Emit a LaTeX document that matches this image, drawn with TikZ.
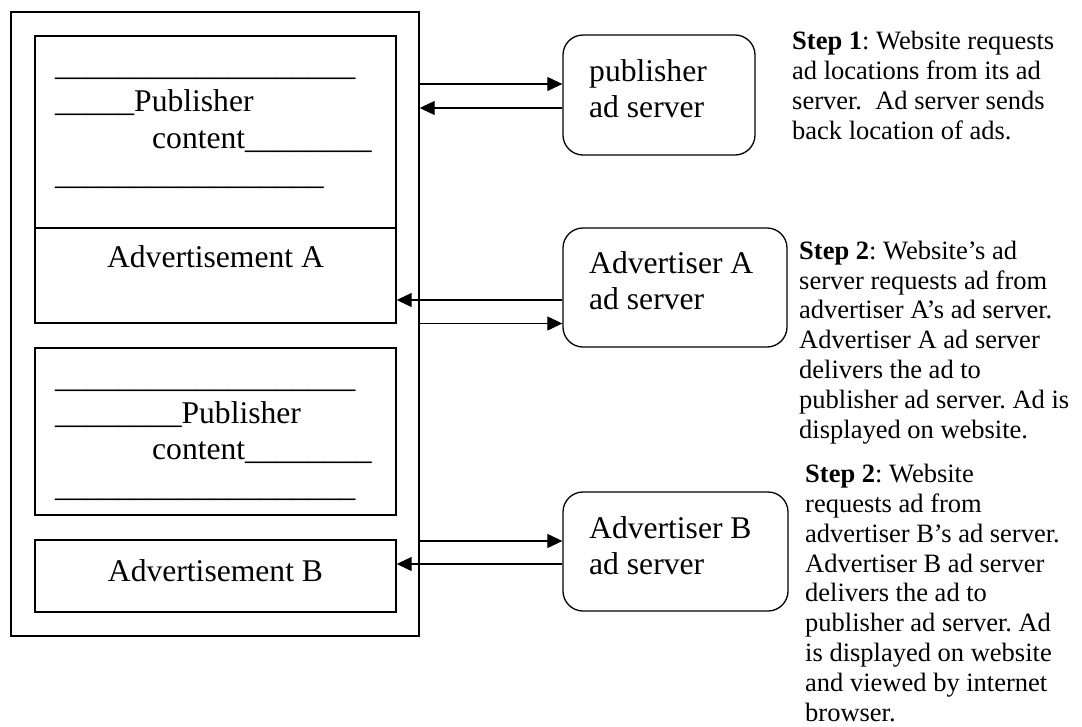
\documentclass[tikz,border=0pt]{standalone}
\usepackage{fontspec}
\setmainfont{Liberation Serif}
\usetikzlibrary{arrows.meta, positioning}
\frenchspacing

\newcommand{\blanks}[1]{\foreach \k in {1,...,#1}{\_}}

\begin{document}
\begin{tikzpicture}[x=1pt, y=-1pt, >={Triangle[length=15pt, width=14pt]},
    frame/.style={draw, line width=1.4pt, inner sep=0pt},
    srv/.style={draw, line width=1.3pt, rounded corners=20pt, inner sep=0pt},
    flow/.style={->, line width=1.1pt},
    big/.style={font=\fontsize{31.6}{36.4}\selectfont, inner sep=0pt, align=left},
    note/.style={font=\fontsize{26.5}{29.8}\selectfont, inner sep=0pt, align=left}]
    \useasboundingbox (0,0) rectangle (1082,726);

    % website page
    \node[frame, minimum width=408pt, minimum height=624pt] (site) at (215,324) {};
    \node[frame, minimum width=361pt, minimum height=192pt] (pubA) at (215.5,132) {};
    \node[frame, minimum width=361pt, minimum height=95pt] (adA) at (215.5,275.5) {};
    \node[frame, minimum width=361pt, minimum height=167pt] (pubB) at (215.5,431.5) {};
    \node[frame, minimum width=361pt, minimum height=72pt] (adB) at (215.5,576) {};

    % multi-line texts are placed by the baseline of their last line
    \node[big, anchor=base west] (pubAtxt) at (55,184.7)
        {\blanks{19}\\\blanks{5}Publisher\\\hspace*{97pt}content\blanks{8}\\\blanks{17}};
    \node[big, anchor=base west] (pubBtxt) at (55,496.2)
        {\blanks{19}\\\blanks{8}Publisher\\\hspace*{97pt}content\blanks{8}\\\blanks{19}};
    \node[big, anchor=base] (adAtxt) at (215.5,267) {Advertisement A};
    \node[big, anchor=base] (adBtxt) at (215.5,581) {Advertisement B};

    % ad servers
    \node[srv, minimum width=192pt, minimum height=120pt] (pubsrv) at (659,95) {};
    \node[srv, minimum width=224pt, minimum height=119pt] (srvA) at (675,287.5) {};
    \node[srv, minimum width=225pt, minimum height=119pt] (srvB) at (675.5,551.5) {};
    \node[big, anchor=base west] (pubsrvtxt) at (589,117.4) {publisher\\ad server};
    \node[big, anchor=base west] (srvAtxt) at (589,309.4) {Advertiser A\\ad server};
    \node[big, anchor=base west] (srvBtxt) at (589,574.4) {Advertiser B\\ad server};

    \draw[flow] (site.east |- 0,84) -- (pubsrv.west |- 0,84);
    \draw[flow] (pubsrv.west |- 0,108) -- (site.east |- 0,108);
    \draw[flow] (srvA.west |- 0,300) -- (adA.east |- 0,300);
    \draw[flow] (site.east |- 0,323.5) -- (srvA.west |- 0,323.5);
    \draw[flow] (site.east |- 0,541) -- (srvB.west |- 0,541);
    \draw[flow] (srvB.west |- 0,564) -- (adB.east |- 0,564);

    % steps
    \node[note, anchor=base west] (step1) at (792,139)
        {\textbf{Step 1}: Website requests\\ad locations from its ad\\server.\ \ Ad server sends\\back location of ads.};
    \node[note, anchor=base west] (step2a) at (799,438)
        {\textbf{Step 2}: Website’s ad\\server requests ad from\\advertiser A’s ad server.\\Advertiser A ad server\\delivers the ad to\\publisher ad server. Ad is\\displayed on website.};
    \node[note, anchor=base west] (step2b) at (805,721)
        {\textbf{Step 2}: Website\\requests ad from\\advertiser B’s ad server.\\Advertiser B ad server\\delivers the ad to\\publisher ad server. Ad\\is displayed on website\\and viewed by internet\\browser.};
\end{tikzpicture}
\end{document}
